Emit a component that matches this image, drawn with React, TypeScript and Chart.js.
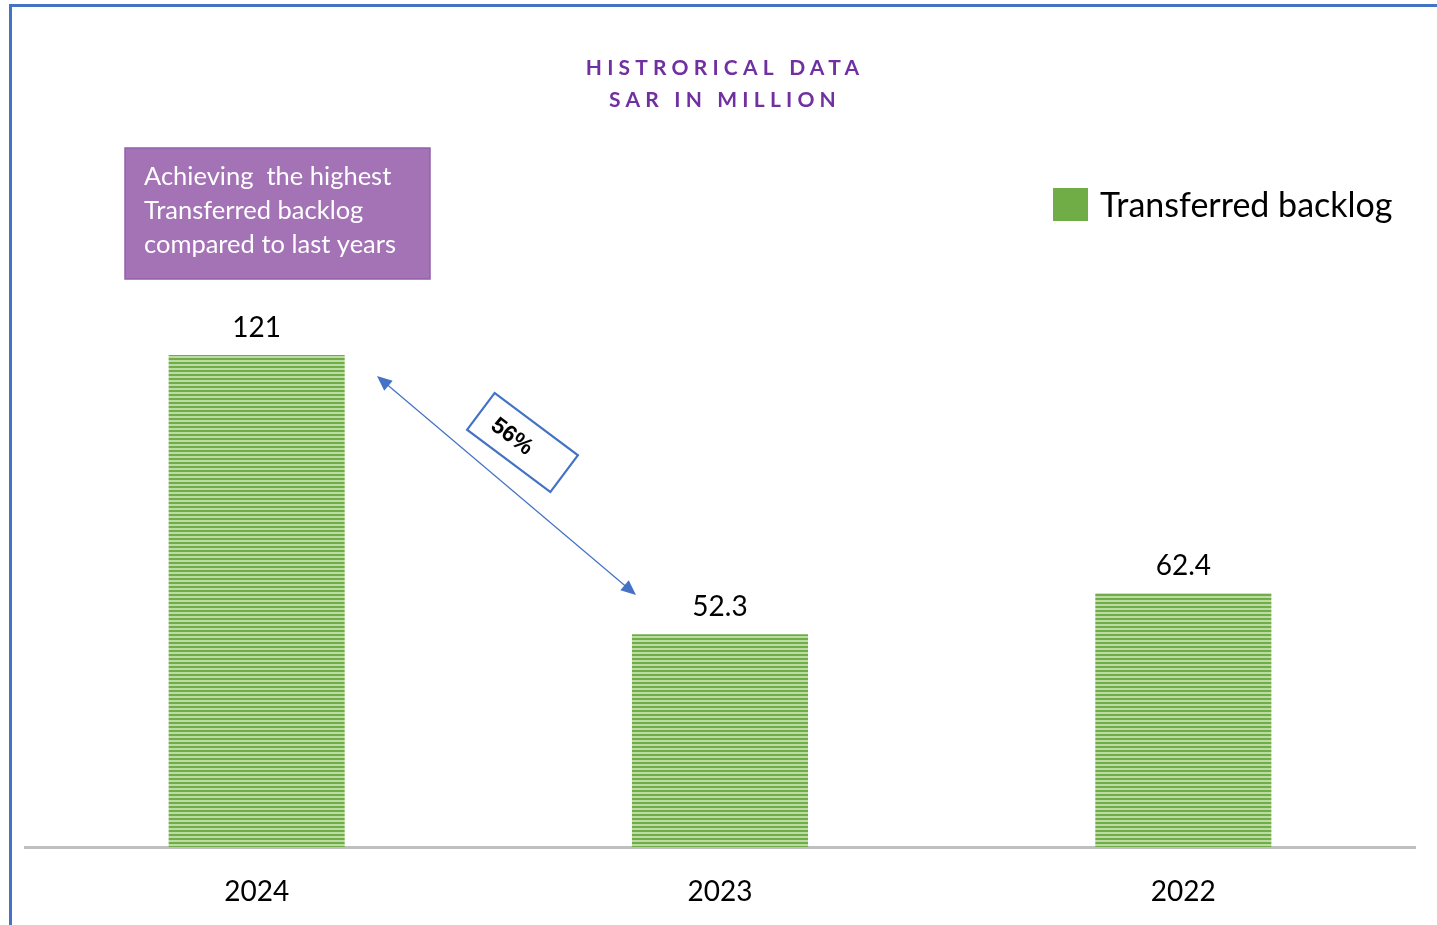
import React, { useEffect, useRef } from "react";
import { Chart, registerables } from "chart.js";

Chart.register(...registerables);

const categories = ["2024", "2023", "2022"];
const backlogValues = [121, 52.3, 62.4];
const seriesName = "Transferred backlog";
const titleLines = ["HISTRORICAL DATA", "SAR IN MILLION"];
const noteLines = ["Achieving  the highest", "Transferred backlog", "compared to last years"];
const changeLabel = "56%";

const FONT = "Lato, 'Open Sans', sans-serif";

function makePattern(ctx: CanvasRenderingContext2D) {
  const c = document.createElement("canvas");
  c.width = 4;
  c.height = 4;
  const p = c.getContext("2d")!;
  p.fillStyle = "#70ad47";
  p.fillRect(0, 0, 4, 4);
  p.fillStyle = "#bcdca6";
  p.fillRect(0, 0, 4, 2);
  return ctx.createPattern(c, "repeat")!;
}

function arrowHead(ctx: CanvasRenderingContext2D, x: number, y: number, ang: number) {
  const L = 15, W = 6.5;
  ctx.beginPath();
  ctx.moveTo(x, y);
  ctx.lineTo(x - L * Math.cos(ang) + W * Math.sin(ang), y - L * Math.sin(ang) - W * Math.cos(ang));
  ctx.lineTo(x - L * Math.cos(ang) - W * Math.sin(ang), y - L * Math.sin(ang) + W * Math.cos(ang));
  ctx.closePath();
  ctx.fill();
}

const decorPlugin = {
  id: "decor",
  beforeDraw(chart: any) {
    const ctx = chart.ctx as CanvasRenderingContext2D;
    ctx.save();
    ctx.fillStyle = "#ffffff";
    ctx.fillRect(0, 0, chart.width, chart.height);
    ctx.fillStyle = "#4472c4";
    ctx.fillRect(9, 4, chart.width - 9, 3);
    ctx.fillRect(9, 4, 3, chart.height - 4);
    ctx.restore();
  },
  afterDraw(chart: any) {
    const ctx = chart.ctx as CanvasRenderingContext2D;
    ctx.save();
    // title
    ctx.fillStyle = "#7030a0";
    ctx.font = `bold 21px ${FONT}`;
    (ctx as any).letterSpacing = "5.2px";
    ctx.textAlign = "center";
    ctx.textBaseline = "middle";
    ctx.fillText(titleLines[0], 725, 68);
    ctx.fillText(titleLines[1], 725, 100);
    (ctx as any).letterSpacing = "0px";

    // note box
    ctx.fillStyle = "#a373b5";
    ctx.fillRect(125, 148, 305, 131);
    ctx.strokeStyle = "#9560ab";
    ctx.lineWidth = 1.5;
    ctx.strokeRect(125, 148, 305, 131);
    ctx.fillStyle = "#ffffff";
    ctx.font = `25.5px ${FONT}`;
    ctx.textAlign = "left";
    noteLines.forEach((t, i) => ctx.fillText(t, 144, 177 + i * 34));

    // legend
    ctx.fillStyle = "#70ad47";
    ctx.fillRect(1053, 188, 35, 33);
    ctx.fillStyle = "#000000";
    ctx.font = `34px ${FONT}`;
    ctx.fillText(seriesName, 1100, 206);

    // data labels
    const meta = chart.getDatasetMeta(0);
    ctx.font = `28px ${FONT}`;
    ctx.textAlign = "center";
    ctx.textBaseline = "alphabetic";
    meta.data.forEach((el: any, i: number) => {
      ctx.fillText(String(backlogValues[i]), el.x, el.y - 18);
    });

    // arrow
    const x1 = 377, y1 = 376, x2 = 636, y2 = 595;
    const ang = Math.atan2(y2 - y1, x2 - x1);
    ctx.strokeStyle = "#4472c4";
    ctx.fillStyle = "#4472c4";
    ctx.lineWidth = 1.2;
    ctx.beginPath();
    ctx.moveTo(x1 + 10 * Math.cos(ang), y1 + 10 * Math.sin(ang));
    ctx.lineTo(x2 - 10 * Math.cos(ang), y2 - 10 * Math.sin(ang));
    ctx.stroke();
    arrowHead(ctx, x2, y2, ang);
    arrowHead(ctx, x1, y1, ang + Math.PI);

    // 56% box
    ctx.translate(522.5, 442.5);
    ctx.rotate((36.8 * Math.PI) / 180);
    ctx.lineWidth = 2.2;
    ctx.strokeRect(-52, -23, 104, 46);
    ctx.fillStyle = "#000000";
    ctx.font = `bold 23px Arial, 'Liberation Sans', sans-serif`;
    ctx.textBaseline = "middle";
    ctx.fillText(changeLabel, -12, 2);
    ctx.restore();
  },
};

export default function App() {
  const ref = useRef<HTMLCanvasElement | null>(null);
  useEffect(() => {
    document.body.style.margin = "0";
    const canvas = ref.current!;
    const ctx = canvas.getContext("2d")!;
    const chart = new Chart(canvas, {
      type: "bar",
      data: {
        labels: categories,
        datasets: [
          {
            label: seriesName,
            data: backlogValues,
            backgroundColor: makePattern(ctx),
            borderWidth: 0,
            barPercentage: 0.38,
            categoryPercentage: 1,
          },
        ],
      },
      options: {
        responsive: false,
        animation: false,
        layout: { padding: { left: 25, right: 22, top: 237, bottom: 0 } },
        plugins: { legend: { display: false }, tooltip: { enabled: false }, title: { display: false } },
        scales: {
          y: { display: false, min: 0, max: 150 },
          x: {
            grid: { display: false },
            border: { display: true, color: "#bfbfbf", width: 3 },
            ticks: { color: "#000000", font: { family: FONT, size: 28 }, padding: 20 },
            afterFit: (scale: any) => {
              scale.height = 78;
            },
          },
        },
      },
      plugins: [decorPlugin],
    });
    return () => chart.destroy();
  }, []);
  return (
    <div style={{ position: "fixed", left: 0, top: 0, width: 1437, height: 925 }}>
      <canvas ref={ref} width={1437} height={925} />
    </div>
  );
}
